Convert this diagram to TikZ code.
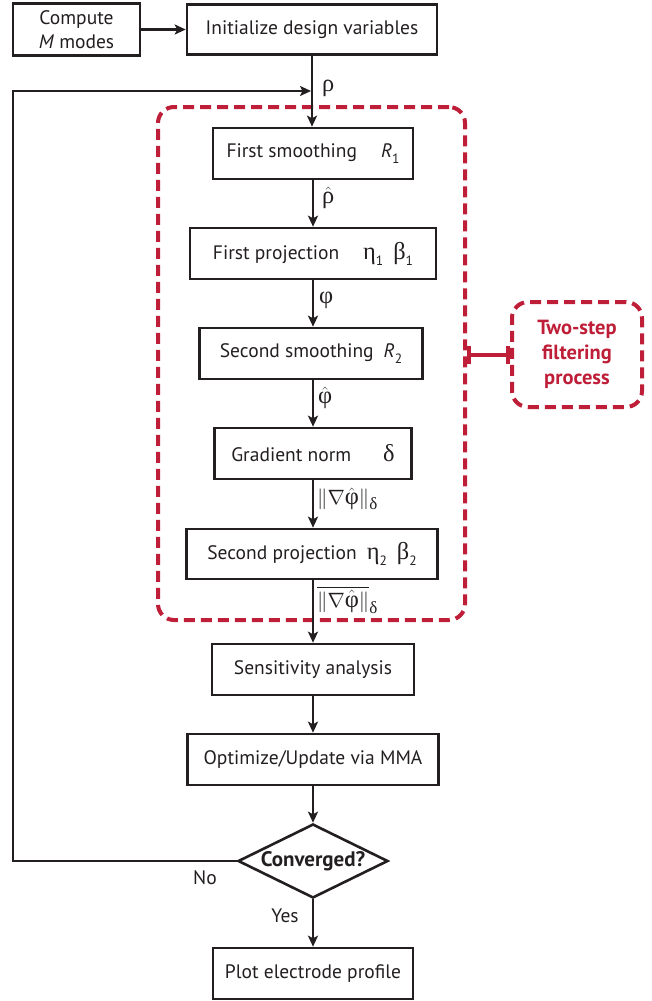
\documentclass[tikz,border=0pt]{standalone}
\usepackage{amsmath}
\usepackage{fontspec}
\setmainfont{PT Sans}
\newfontfamily\grk[Scale=1.25]{Liberation Serif}
\usetikzlibrary{shapes.geometric,arrows.meta}
\definecolor{ink}{RGB}{35,31,32}
\definecolor{fred}{RGB}{190,30,55}
\newcommand\lsub[1]{\raisebox{-0.6ex}{\fontsize{13.5}{13.5}\selectfont #1}}
\begin{document}
\begin{tikzpicture}[x=1pt,y=-1pt,
  txt/.style={font=\fontsize{19.5}{24}\selectfont, text=ink},
  box/.style={txt, draw=ink, line width=2.6pt, minimum height=51pt, inner sep=0pt},
  arr/.style={draw=ink, line width=2.3pt, -{Stealth[length=11pt,width=10pt,inset=2.5pt]}},
  lab/.style={txt, anchor=west, inner sep=0pt},
  fbox/.style={draw=fred, line width=4pt, dash pattern=on 11pt off 6pt, rounded corners=16pt},
  redl/.style={draw=fred, line width=4pt, {Bar[width=18pt,line width=4pt]}-{Bar[width=18pt,line width=4pt]}},
  dec/.style={txt, font=\fontsize{21}{24}\selectfont\bfseries, draw=ink, line width=2.6pt, diamond, shape aspect=2, inner sep=0pt, minimum width=150pt, minimum height=74pt}
]
\useasboundingbox (0,0) rectangle (651,1001);

\node[box, minimum width=127pt, minimum height=52pt, align=center] (comp) at (76.5,29.5) {Compute\\\textit{M} modes};
\node[box, minimum width=250pt, minimum height=50pt] (init) at (312,29.5) {Initialize design variables};

\node[fbox, minimum width=307pt, minimum height=513pt] (filt) at (311.5,363.5) {};
\node[fbox, minimum width=130pt, minimum height=105pt, text=fred, font=\fontsize{20.5}{25}\selectfont\bfseries, align=center, inner sep=0pt] (two) at (577,354.5) {Two-step\\filtering\\process};

\node[box, minimum width=200pt] (s1) at (313,153.5) {First smoothing\hspace{24pt}\textit{R}\lsub{1}};
\node[box, minimum width=246pt] (p1) at (313,253.5) {First projection\hspace{24pt}{\grk η}\lsub{1}\hspace{10pt}{\grk β}\lsub{1}};
\node[box, minimum width=223pt] (s2) at (311,353.5) {Second smoothing\hspace{10pt}\textit{R}\lsub{2}};
\node[box, minimum width=197pt] (gn) at (313,453.5) {Gradient norm\hspace{32pt}{\grk δ}};
\node[box, minimum width=251pt, minimum height=50pt] (p2) at (312,554) {Second projection\hspace{10pt}{\grk η}\lsub{2}\hspace{10pt}{\grk β}\lsub{2}};
\node[box, minimum width=202pt] (sa) at (313,669.5) {Sensitivity analysis};
\node[box, minimum width=251pt] (opt) at (313,759.5) {Optimize/Update via MMA};
\node[dec] (conv) at (313,861) {Converged?};
\node[box, minimum width=200pt] (plot) at (313,973.5) {Plot electrode profile};

\coordinate (lft) at (13,0);
\coordinate (join) at (311,91);

\draw[arr] (comp) -- (init);
\draw[arr] (init.south) -- (init.south |- s1.north);
\draw[arr] (s1.south) -- (s1.south |- p1.north);
\draw[arr] (p1.south) -- (p1.south |- s2.north);
\draw[arr] (p1.south |- s2.south) -- (p1.south |- gn.north);
\draw[arr] (gn.south) -- (gn.south |- p2.north);
\draw[arr] (gn.south |- p2.south) -- (gn.south |- sa.north);
\draw[arr] (sa.south) -- (sa.south |- opt.north);
\draw[arr] (opt.south) -- (conv.north);
\draw[arr] (conv.south) -- (plot.north);
\draw[arr] (conv.west) -- (conv.west -| lft) |- (join);

\draw[redl] (filt.east |- two.west) -- (two.west);

\node[lab] (lrho) at (322,88) {\grk ρ};
\node[lab] (lrhoh) at (322,198) {$\hat{\text{\grk ρ}}$};
\node[lab] (lphi) at (319,300) {\grk φ};
\node[lab] (lphih) at (318,398) {$\hat{\text{\grk φ}}$};
\node[lab] (lnorm) at (317,499) {$\|\nabla\hat{\text{\grk φ}}\|_{\text{\grk δ}}$};
\node[lab] (lnormb) at (317,600) {$\overline{\|\nabla\hat{\text{\grk φ}}\|}_{\text{\grk δ}}$};
\node[txt] (lno) at (205,878) {No};
\node[txt] (lyes) at (285,916) {Yes};
\end{tikzpicture}
\end{document}
